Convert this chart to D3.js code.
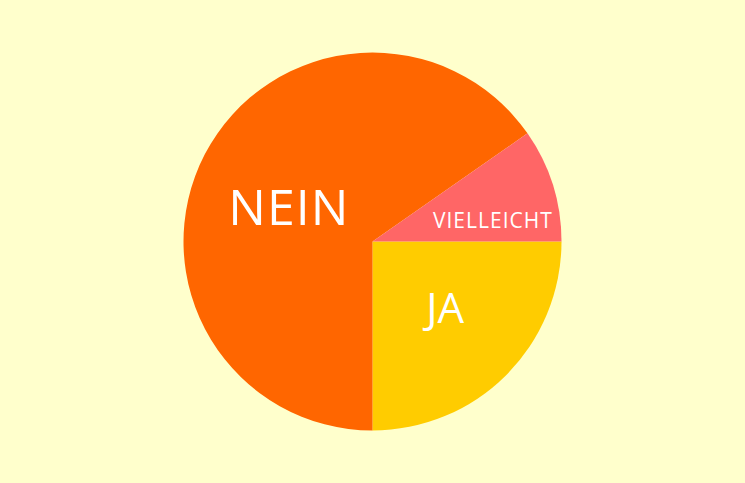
<!DOCTYPE html>
<html>
<head>
<meta charset="utf-8">
<script src="https://cdn.jsdelivr.net/npm/d3@7"></script>
<style>
	html, body { margin: 0; padding: 0; background: #ffffcc; }
	svg { display: block; }
	text { font-family: "Open Sans", "Noto Sans", sans-serif; fill: #ffffff; }
</style>
</head>
<body>
<svg id="chart"></svg>
<script>
// data
var categories = ["JA", "NEIN", "VIELLEICHT"];
var values = [25, 65.3, 9.7];

var colors = ["#ffcc00", "#ff6600", "#ff6666"];
var fontSizes = [42, 50, 21];
var spacing = [0, 1, 1];
// label nudges from the centroid of the label arc
var labelShift = [[2, 11], [5, 30], [25, 16]];

const width = 745;
const height = 483;
const radius = 189;

var svg = d3.select("#chart")
	.attr("width", width)
	.attr("height", height);

var g = svg.append("g")
	.attr("transform", "translate(" + (width / 2) + "," + (height / 2) + ")");

// pie starts at 3 o'clock, clockwise
var pie = d3.pie()
	.sort(null)
	.startAngle(Math.PI / 2)
	.endAngle(Math.PI / 2 + 2 * Math.PI)
	.value(d => d);

var arc = d3.arc().innerRadius(0).outerRadius(radius);
var labelArc = d3.arc().innerRadius(100).outerRadius(100);

var arcs = pie(values);

g.selectAll(".slice")
	.data(arcs)
	.enter()
	.append("path")
		.attr("class", "slice")
		.attr("fill", (d, i) => colors[i])
		.attr("d", arc);

g.selectAll(".label")
	.data(arcs)
	.enter()
	.append("text")
		.attr("class", "label")
		.attr("text-anchor", "middle")
		.attr("font-size", (d, i) => fontSizes[i] + "px")
		.attr("letter-spacing", (d, i) => spacing[i] + "px")
		.attr("x", (d, i) => labelArc.centroid(d)[0] + labelShift[i][0])
		.attr("y", (d, i) => labelArc.centroid(d)[1] + labelShift[i][1])
		.text((d, i) => categories[i]);
</script>
</body>
</html>
